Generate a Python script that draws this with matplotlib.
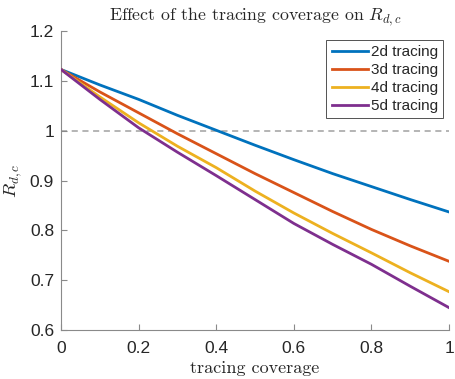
import matplotlib
matplotlib.use("Agg")
import matplotlib.pyplot as plt

coverage = [0.0, 0.1, 0.2, 0.3, 0.4, 0.5, 0.6, 0.7, 0.8, 0.9, 1.0]
r_2d = [1.123, 1.092, 1.063, 1.031, 1.001, 0.971, 0.942, 0.914, 0.888, 0.862, 0.837]
r_3d = [1.123, 1.078, 1.036, 0.994, 0.954, 0.914, 0.876, 0.838, 0.802, 0.769, 0.738]
r_4d = [1.123, 1.068, 1.016, 0.969, 0.926, 0.879, 0.835, 0.794, 0.755, 0.715, 0.677]
r_5d = [1.123, 1.063, 1.006, 0.957, 0.910, 0.862, 0.814, 0.772, 0.732, 0.688, 0.645]
series = [("2d tracing", r_2d), ("3d tracing", r_3d), ("4d tracing", r_4d), ("5d tracing", r_5d)]
colors = ["#0072BD", "#D95319", "#EDB120", "#7E2F8E"]
xticks = [0, 0.2, 0.4, 0.6, 0.8, 1]
xticklabels = ["0", "0.2", "0.4", "0.6", "0.8", "1"]
yticks = [0.6, 0.7, 0.8, 0.9, 1.0, 1.1, 1.2]
yticklabels = ["0.6", "0.7", "0.8", "0.9", "1", "1.1", "1.2"]

plt.rcParams['mathtext.fontset'] = 'cm'
plt.rcParams['font.family'] = ['Liberation Sans', 'DejaVu Sans']

fig = plt.figure(figsize=(4.55, 3.79), dpi=100)
ax = fig.add_axes([0.134, 0.129, 0.853, 0.789])

ax.axhline(1.0, color="#a0a0a0", linestyle=(0, (4, 3)), linewidth=1.1, zorder=1)
for (label, vals), c in zip(series, colors):
    ax.plot(coverage, vals, color=c, linewidth=2.0, label=label, zorder=3)

ax.set_xlim(0, 1)
ax.set_ylim(0.6, 1.2)
ax.set_xticks(xticks)
ax.set_xticklabels(xticklabels)
ax.set_yticks(yticks)
ax.set_yticklabels(yticklabels)
for s in ["top", "right"]:
    ax.spines[s].set_visible(False)
for s in ["left", "bottom"]:
    ax.spines[s].set_color("#8a8a8a")
    ax.spines[s].set_linewidth(0.8)
ax.tick_params(direction="in", length=4, color="#8a8a8a", labelsize=12.5, labelcolor="#262626")
ax.tick_params(axis="x", pad=8)
ax.tick_params(axis="y", pad=5)

ax.set_title(r"Effect of the tracing coverage on $R_{d,c}$", fontfamily="cmr10", fontsize=12.8, color="#262626", pad=8)
ax.set_xlabel("tracing coverage", fontfamily="cmr10", fontsize=13, color="#262626", labelpad=3)
ax.set_ylabel(r"$R_{d,c}$", fontsize=13.5, color="#262626", labelpad=4)

leg = ax.legend(loc="upper right", bbox_to_anchor=(0.985, 0.97), fontsize=11, frameon=True, fancybox=False,
                edgecolor="#262626", handlelength=2.35, handletextpad=0.2, borderpad=0.35, labelspacing=0.25,
                borderaxespad=0.0)
leg.get_frame().set_linewidth(0.7)
for t in leg.get_texts():
    t.set_color("#262626")

fig.savefig("out.png", dpi=100)
